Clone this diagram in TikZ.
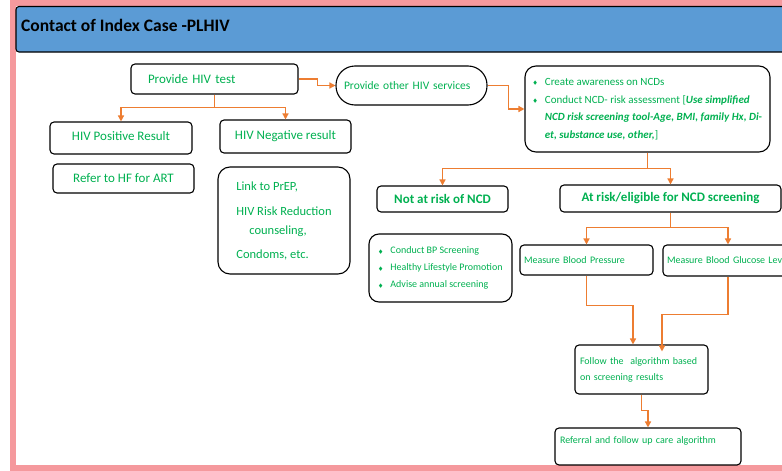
\documentclass[tikz,border=0pt]{standalone}
\usepackage{amssymb}
\usepackage{fontspec}
\setmainfont{Carlito}
\usetikzlibrary{arrows.meta}
\definecolor{framepink}{RGB}{245,153,157}
\definecolor{headblue}{RGB}{91,155,213}
\definecolor{txtgreen}{RGB}{0,176,80}
\definecolor{arroworange}{RGB}{237,125,49}
\newcommand{\bul}{\makebox[12pt][l]{\raisebox{0.5pt}{\tiny$\blacklozenge$}}}

\begin{document}
\begin{tikzpicture}[x=1pt,y=-1pt,
  box/.style={draw=black, line width=1.1pt, rounded corners=4pt, text=txtgreen, inner sep=0pt, font=\fontsize{13}{15.6}\selectfont},
  flow/.style={draw=arroworange, line width=1.7pt, -{Triangle[length=6pt,width=6pt]}}]
\useasboundingbox (0,0) rectangle (782,471);
\draw[framepink, line width=6pt] (13,3) rectangle (800,468);
\draw[fill=headblue, line width=1.1pt, rounded corners=3pt] (16,6.5) rectangle (810,52);
\node (title) [anchor=west, inner sep=0pt, font=\bfseries\fontsize{17.5}{21}\selectfont] at (21,25) {Contact of Index Case -PLHIV};

\node (hivtest) [box, minimum width=167pt, minimum height=30pt, text width=133pt, inner xsep=17pt, align=left] at (214.5,79) {Provide HIV test};
\node (othersvc) [box, rounded corners=19pt, minimum width=151pt, minimum height=39pt, text width=135pt, inner xsep=8pt, align=left, font=\fontsize{11.5}{13.8}\selectfont] at (411.5,85.5) {Provide other HIV services};
\node (ncdinfo) [box, rounded corners=11pt, minimum width=245pt, minimum height=86pt, align=left, font=\fontsize{11}{17.6}\selectfont] at (647.5,109)
{\bul Create awareness on NCDs\\
\bul Conduct NCD- risk assessment [\textbf{\textit{Use simplified}}\\
\hspace*{12pt}\textbf{\textit{NCD risk screening tool-Age, BMI, family Hx, Di-}}\\
\hspace*{12pt}\textbf{\textit{et, substance use, other,}}]};

\node (hivpos) [box, minimum width=142pt, minimum height=32pt, text depth=5pt] at (121,138) {HIV Positive Result};
\node (hivneg) [box, minimum width=131pt, minimum height=33pt] at (285.5,136.5) {HIV Negative result};
\node (refart) [box, minimum width=141pt, minimum height=29pt] at (123.5,178.5) {Refer to HF for ART};
\node (linkprep) [box, rounded corners=12pt, minimum width=132pt, minimum height=107pt, align=left, font=\fontsize{12.5}{19}\selectfont] at (284,220.5)
{Link to PrEP,\\[6pt] HIV Risk Reduction\\ \hspace*{13pt}counseling,\\[5pt] Condoms, etc.};

\node (notrisk) [box, minimum width=131pt, minimum height=26pt, font=\bfseries\fontsize{13}{15.6}\selectfont] at (442.5,199) {Not at risk of NCD};
\node (atrisk) [box, minimum width=221pt, minimum height=27pt, font=\bfseries\fontsize{13}{15.6}\selectfont] at (670.5,198.5) {At risk/eligible for NCD screening};
\node (ncdadvice) [box, rounded corners=10pt, minimum width=143pt, minimum height=68pt, align=left, font=\fontsize{10}{17}\selectfont] at (440.5,268)
{\bul Conduct BP Screening\\ \bul Healthy Lifestyle Promotion\\ \bul Advise annual screening};
\node (measbp) [box, minimum width=133pt, minimum height=30pt, text width=125pt, inner xsep=4pt, align=left, font=\fontsize{10}{12}\selectfont] at (586.5,260) {Measure Blood Pressure};
\node (measglu) [box, minimum width=130pt, minimum height=31pt, text width=122pt, inner xsep=4pt, align=left, font=\fontsize{10}{12}\selectfont] at (728,260.5) {\mbox{Measure Blood Glucose Level}};
\node (followalg) [box, minimum width=133pt, minimum height=49pt, text width=123pt, inner xsep=5pt, align=left, font=\fontsize{10}{16}\selectfont] at (641.5,369.5) {Follow the\ \ algorithm based\\ on screening results};
\node (referral) [box, minimum width=186pt, minimum height=37pt, text width=176pt, inner xsep=5pt, align=left, text height=7.5pt, text depth=14.5pt, font=\fontsize{10}{12}\selectfont] at (648,446.5) {Referral and follow up care algorithm};

\draw[flow] (hivtest.east) -- ++(19,0) |- (othersvc.west);
\draw[flow] (othersvc.east) -- ++(21,0) |- (ncdinfo.west);
\foreach \tgt in {hivpos,hivneg}
  \draw[flow] (hivtest.south) -- ++(0,13) -| (\tgt.north);
\foreach \tgt in {notrisk,atrisk}
  \draw[flow] (ncdinfo.south) -- ++(0,16) -| (\tgt.north);
\foreach \tgt in {measbp,measglu}
  \draw[flow] (atrisk.south) -- ++(0,15) -| (\tgt.north);
\draw[flow] (measbp.south) -- ++(0,30) -| ([xshift=-8.5pt]followalg.north);
\draw[flow] (measglu.south) -- ++(0,38) -| ([xshift=20.5pt,yshift=-7pt]followalg.north);
\draw[flow] (followalg.south) -- ++(0,16) -| (referral.north);
\end{tikzpicture}
\end{document}
